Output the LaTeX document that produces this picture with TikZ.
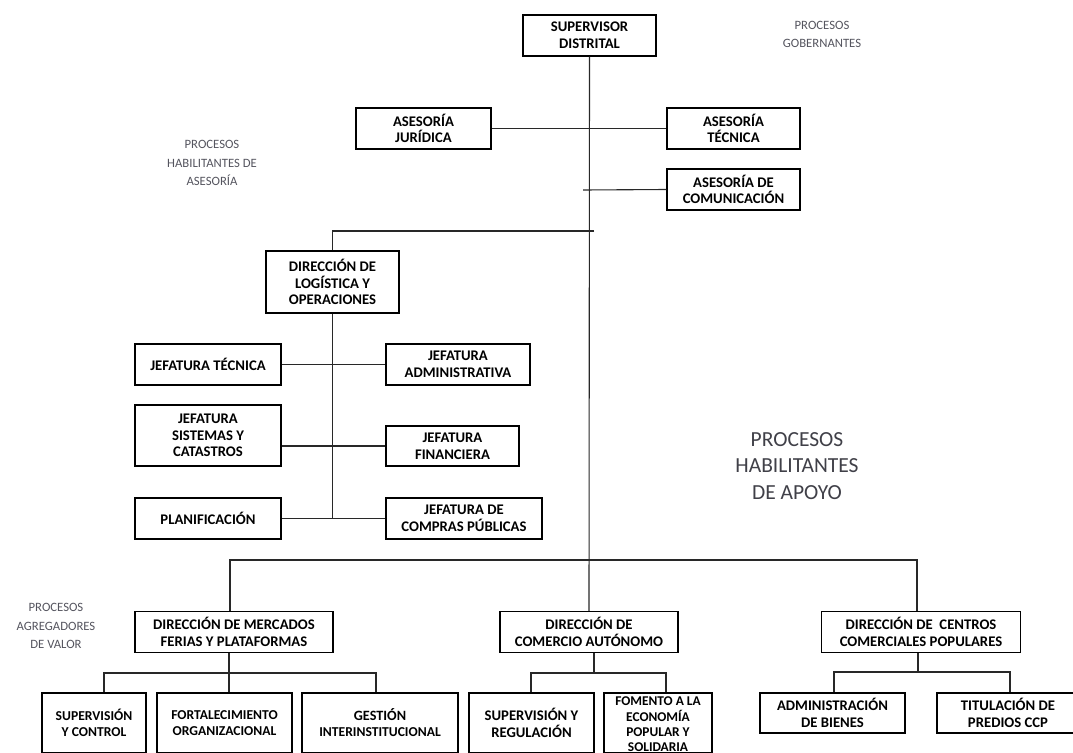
\documentclass[tikz,border=0pt]{standalone}
\usepackage{fontspec}
\setmainfont{Carlito}
\definecolor{lblgray}{RGB}{85,85,95}
\definecolor{biggray}{RGB}{64,64,72}
\definecolor{linegray}{RGB}{40,40,40}
\tikzset{
  box/.style={draw=black, line width=1.2pt, inner sep=0pt, align=center, fill=white,
    font=\bfseries\fontsize{14.7}{16.7}\selectfont},
  smallbox/.style={box, font=\bfseries\fontsize{13.6}{16}\selectfont},
  conn/.style={draw=linegray, line width=1.1pt},
  lbl/.style={text=lblgray, align=center, inner sep=0pt, font=\fontsize{12.7}{18.5}\selectfont},
  biglbl/.style={text=biggray, align=center, inner sep=0pt, font=\fontsize{21.5}{26.5}\selectfont},
}
\begin{document}
\begin{tikzpicture}[x=1pt,y=-1pt]
\clip (0,0) rectangle (1073,752);
\fill[white] (0,0) rectangle (1073,752);

% coordinates for connector corners
\coordinate (cstub) at (583,190);
\coordinate (lend) at (594,231);
\coordinate (barL) at (230,560);
\coordinate (barR) at (917,560);
\coordinate (m1) at (104,673);
\coordinate (m2) at (229,673);
\coordinate (m3) at (376,673);
\coordinate (c0) at (594,673);
\coordinate (c1) at (531,673);
\coordinate (c2) at (666,673);
\coordinate (p0) at (918,672);
\coordinate (p1) at (834,672);
\coordinate (p2) at (1010,672);

% nodes
\node[box, minimum width=133, minimum height=41] (sup) at (589.5,35.5) {SUPERVISOR\\DISTRITAL};
\node[box, minimum width=135, minimum height=41] (jur) at (423.5,128.5) {ASESORÍA\\JURÍDICA};
\node[box, minimum width=133, minimum height=41] (tec) at (733.5,128.5) {ASESORÍA\\TÉCNICA};
\node[box, minimum width=133, minimum height=41] (com) at (733.5,189.5) {ASESORÍA DE\\COMUNICACIÓN};
\node[box, minimum width=133, minimum height=62] (log) at (332.5,282) {DIRECCIÓN DE\\LOGÍSTICA Y\\OPERACIONES};
\node[box, minimum width=146, minimum height=41] (jt) at (208,364.5) {JEFATURA TÉCNICA};
\node[box, minimum width=144, minimum height=41] (ja) at (458,364.5) {JEFATURA\\ADMINISTRATIVA};
\node[box, minimum width=146, minimum height=61] (jsc) at (208,435.5) {JEFATURA\\SISTEMAS Y\\CATASTROS};
\node[box, minimum width=133, minimum height=40] (jf) at (452.5,446) {JEFATURA\\FINANCIERA};
\node[box, minimum width=146, minimum height=41] (pla) at (208,518.5) {PLANIFICACIÓN};
\node[box, minimum width=156, minimum height=41] (jcp) at (464,518.5) {JEFATURA DE\\COMPRAS PÚBLICAS};

\node[box, minimum width=198, minimum height=41] (dm) at (234,632) {DIRECCIÓN DE MERCADOS\\FERIAS Y PLATAFORMAS};
\node[box, minimum width=178, minimum height=41] (dca) at (589,632) {DIRECCIÓN DE\\COMERCIO AUTÓNOMO};
\node[box, minimum width=199, minimum height=41] (dcc) at (921,632) {DIRECCIÓN DE~~CENTROS\\COMERCIALES POPULARES};

\node[smallbox, minimum width=104, minimum height=60] (svc) at (94,723) {SUPERVISIÓN\\Y CONTROL};
\node[smallbox, minimum width=135, minimum height=60] (fo) at (224.5,723) {FORTALECIMIENTO\\ORGANIZACIONAL};
\node[smallbox, minimum width=156, minimum height=60] (gi) at (380,723) {{\fontsize{14.2}{16}\selectfont GESTIÓN}\\INTERINSTITUCIONAL};
\node[box, minimum width=125, minimum height=60] (sr) at (531.5,723) {SUPERVISIÓN Y\\REGULACIÓN};
\node[smallbox, minimum width=108, minimum height=60, font=\bfseries\fontsize{13.4}{14.8}\selectfont] (fom) at (658,723) {\raisebox{-2.5pt}[\height][\depth]{\renewcommand\arraystretch{1}\begin{tabular}{@{}c@{}}FOMENTO A LA\\ECONOMÍA\\POPULAR Y\\SOLIDARIA\end{tabular}}};
\node[box, minimum width=145, minimum height=40] (ab) at (832.5,713) {ADMINISTRACIÓN\\DE BIENES};
\node[box, minimum width=142, minimum height=40] (tp) at (1008,713) {TITULACIÓN DE\\PREDIOS CCP};

% labels
\node[lbl] (lgob) at (822,34.5) {PROCESOS\\GOBERNANTES};
\node[lbl] (lase) at (212,163) {PROCESOS\\HABILITANTES DE\\ASESORÍA};
\node[lbl] (lagr) at (56,626) {PROCESOS\\AGREGADORES\\DE VALOR};
\node[biglbl] (lapo) at (797,466) {PROCESOS\\HABILITANTES\\DE APOYO};

% connectors
\draw[conn] (sup.south) -- (dca.north);
\draw[conn] (jur.east) -- (tec.west);
\draw[conn] (cstub) -- (com.west);
\draw[conn] (lend) -| (log.north);
\draw[conn] (log.south) -- (log.south |- pla.east);
\draw[conn] (jt.east) -- (ja.west);
\draw[conn] (jf.west -| jsc.east) -- (jf.west);
\draw[conn] (pla.east) -- (jcp.west);
\draw[conn] (dm.north -| barL) -- (barL) -- (barR) -- (barR |- dcc.north);
\draw[conn] (dm.south -| m2) -- (m2) -- (m2 |- fo.north);
\draw[conn] (m1 |- svc.north) -- (m1) -- (m3) -- (m3 |- gi.north);
\draw[conn] (dca.south -| c0) -- (c0);
\draw[conn] (c1 |- sr.north) -- (c1) -- (c2) -- (c2 |- fom.north);
\draw[conn] (dcc.south -| p0) -- (p0);
\draw[conn] (p1 |- ab.north) -- (p1) -- (p2) -- (p2 |- tp.north);
\end{tikzpicture}
\end{document}
